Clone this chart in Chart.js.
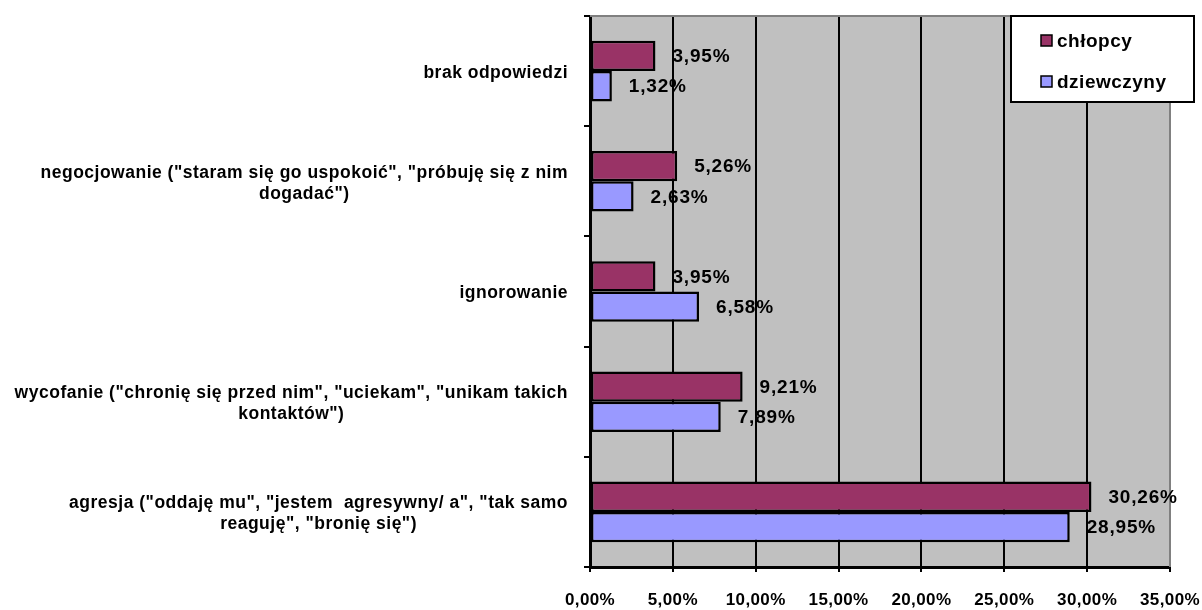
<!DOCTYPE html>
<html>
<head>
<meta charset="utf-8">
<script src="https://cdn.jsdelivr.net/npm/chart.js@4"></script>
<style>
    html, body { margin: 0; padding: 0; background: #fff; }
    #wrap { width: 1202px; height: 610px; position: relative; }
</style>
</head>
<body>
<div id="wrap"><canvas id="chart"></canvas></div>
<script>
// categories, top to bottom (multi-line labels are split into lines)
const categories = [
    ['brak odpowiedzi'],
    ['negocjowanie ("staram się go uspokoić", "próbuję się z nim', 'dogadać")'],
    ['ignorowanie'],
    ['wycofanie ("chronię się przed nim", "uciekam", "unikam takich', 'kontaktów")'],
    ['agresja ("oddaję mu", "jestem  agresywny/ a", "tak samo', 'reaguję", "bronię się")']
];
const seriesNames = ['chłopcy', 'dziewczyny'];
const chlopcy = [3.95, 5.26, 3.95, 9.21, 30.26];
const dziewczyny = [1.32, 2.63, 6.58, 7.89, 28.95];
const xTicks = [0, 5, 10, 15, 20, 25, 30, 35];

const FONT = '"Liberation Sans", Arial, sans-serif';

function pct(v) {
    return v.toFixed(2).replace('.', ',') + '%';
}

// grey plot area + letter spacing for the axis text
const plotArea = {
    id: 'plotArea',
    beforeDraw(chart) {
        const { ctx, chartArea: a } = chart;
        ctx.save();
        ctx.fillStyle = '#C0C0C0';
        ctx.fillRect(a.left, a.top, a.right - a.left, a.bottom - a.top);
        ctx.restore();
        ctx.letterSpacing = '0.4px';
    },
    beforeDatasetsDraw(chart) {
        const { ctx, chartArea: a } = chart;
        ctx.save();
        ctx.strokeStyle = '#808080';
        ctx.lineWidth = 2;
        ctx.beginPath();
        ctx.moveTo(a.left, a.top);
        ctx.lineTo(a.right, a.top);
        ctx.lineTo(a.right, a.bottom);
        ctx.stroke();
        ctx.restore();
    }
};

// value labels right of each bar
const valueLabels = {
    id: 'valueLabels',
    afterDatasetsDraw(chart) {
        const ctx = chart.ctx;
        ctx.save();
        ctx.letterSpacing = '0.8px';
        ctx.font = 'bold 19px ' + FONT;
        ctx.fillStyle = '#000';
        ctx.textAlign = 'left';
        ctx.textBaseline = 'middle';
        chart.data.datasets.forEach((ds, di) => {
            chart.getDatasetMeta(di).data.forEach((bar, i) => {
                ctx.fillText(pct(ds.data[i]), bar.x + 17, bar.y + 1);
            });
        });
        ctx.restore();
    }
};

// category labels: block right-aligned, lines centred within the block
const categoryLabels = {
    id: 'categoryLabels',
    afterDraw(chart) {
        const ctx = chart.ctx;
        const y = chart.scales.y;
        const right = chart.chartArea.left - 22;
        const lh = 21;
        ctx.save();
        ctx.letterSpacing = '0.5px';
        ctx.font = 'bold 17.5px ' + FONT;
        ctx.fillStyle = '#000';
        ctx.textAlign = 'center';
        ctx.textBaseline = 'middle';
        categories.forEach((lines, i) => {
            const w = Math.max(...lines.map(l => ctx.measureText(l).width));
            const cx = right - w / 2;
            const cy = y.getPixelForValue(i) + 2;
            lines.forEach((l, j) => {
                ctx.fillText(l, cx, cy + (j - (lines.length - 1) / 2) * lh);
            });
        });
        ctx.restore();
    }
};

// boxed legend in the top right corner
const boxLegend = {
    id: 'boxLegend',
    afterDraw(chart) {
        const ctx = chart.ctx;
        ctx.save();
        ctx.fillStyle = '#fff';
        ctx.fillRect(1011, 16, 183, 86);
        ctx.strokeStyle = '#000';
        ctx.lineWidth = 2;
        ctx.strokeRect(1011, 16, 183, 86);
        ctx.letterSpacing = '0.5px';
        ctx.font = 'bold 19px ' + FONT;
        ctx.textAlign = 'left';
        ctx.textBaseline = 'middle';
        const rows = [41, 82];
        chart.data.datasets.forEach((ds, i) => {
            const cy = rows[i];
            ctx.fillStyle = ds.backgroundColor;
            ctx.fillRect(1041, cy - 6, 11, 11);
            ctx.lineWidth = 1.5;
            ctx.strokeRect(1041, cy - 6, 11, 11);
            ctx.fillStyle = '#000';
            ctx.fillText(ds.label, 1057, cy + 1);
        });
        ctx.restore();
    }
};

new Chart(document.getElementById('chart'), {
    type: 'bar',
    data: {
        labels: categories,
        datasets: [
            {
                label: seriesNames[0],
                data: chlopcy,
                backgroundColor: '#993366',
                borderColor: '#000',
                borderWidth: 2.5,
                borderSkipped: false
            },
            {
                label: seriesNames[1],
                data: dziewczyny,
                backgroundColor: '#9999FF',
                borderColor: '#000',
                borderWidth: 2.5,
                borderSkipped: false
            }
        ]
    },
    options: {
        indexAxis: 'y',
        responsive: true,
        maintainAspectRatio: false,
        animation: false,
        layout: { padding: { top: 16, right: 32, left: 0, bottom: 0 } },
        datasets: { bar: { categoryPercentage: 0.55, barPercentage: 1 } },
        scales: {
            x: {
                min: xTicks[0],
                max: xTicks[xTicks.length - 1],
                afterFit(scale) {
                    scale.height = 43;
                    scale.paddingLeft = 0;
                    scale.paddingRight = 0;
                },
                ticks: {
                    stepSize: xTicks[1] - xTicks[0],
                    padding: 18,
                    color: '#000',
                    font: { family: FONT, size: 17, weight: 'bold' },
                    callback: v => pct(v),
                    maxRotation: 0
                },
                grid: {
                    color: '#000',
                    lineWidth: 2,
                    tickLength: 5,
                    tickColor: '#000'
                },
                border: { color: '#000', width: 3 }
            },
            y: {
                afterFit(scale) { scale.width = 590; },
                ticks: { display: false },
                grid: {
                    drawOnChartArea: false,
                    color: '#000',
                    lineWidth: 2,
                    tickLength: 6,
                    offset: true
                },
                border: { color: '#000', width: 3 }
            }
        },
        plugins: {
            legend: { display: false },
            tooltip: { enabled: false }
        }
    },
    plugins: [plotArea, valueLabels, categoryLabels, boxLegend]
});
</script>
</body>
</html>
